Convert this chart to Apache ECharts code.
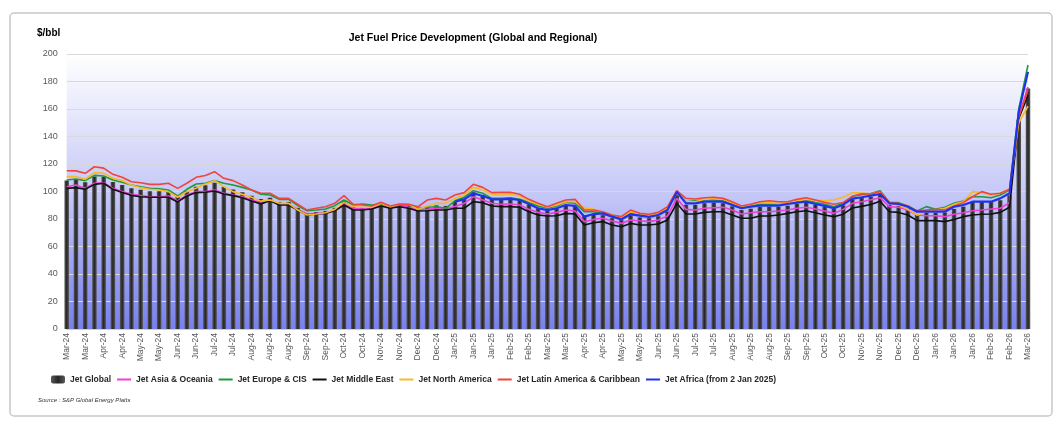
<!DOCTYPE html>
<html><head><meta charset="utf-8">
<script src="https://cdn.jsdelivr.net/npm/echarts@6/dist/echarts.min.js"></script>
<style>html,body{margin:0;padding:0;background:#fff}#c{width:1064px;height:432px}</style>
</head><body><div id="c"></div>
<script>
const categories = [
  'Mar-24','Mar-24','Mar-24',
  'Apr-24','Apr-24','Apr-24','Apr-24',
  'May-24','May-24','May-24','May-24','May-24',
  'Jun-24','Jun-24','Jun-24','Jun-24',
  'Jul-24','Jul-24','Jul-24','Jul-24',
  'Aug-24','Aug-24','Aug-24','Aug-24','Aug-24',
  'Sep-24','Sep-24','Sep-24','Sep-24',
  'Oct-24','Oct-24','Oct-24','Oct-24',
  'Nov-24','Nov-24','Nov-24','Nov-24','Nov-24',
  'Dec-24','Dec-24','Dec-24','Dec-24',
  'Jan-25','Jan-25','Jan-25','Jan-25','Jan-25',
  'Feb-25','Feb-25','Feb-25','Feb-25',
  'Mar-25','Mar-25','Mar-25','Mar-25',
  'Apr-25','Apr-25','Apr-25','Apr-25',
  'May-25','May-25','May-25','May-25','May-25',
  'Jun-25','Jun-25','Jun-25','Jun-25',
  'Jul-25','Jul-25','Jul-25','Jul-25',
  'Aug-25','Aug-25','Aug-25','Aug-25','Aug-25',
  'Sep-25','Sep-25','Sep-25','Sep-25',
  'Oct-25','Oct-25','Oct-25','Oct-25','Oct-25',
  'Nov-25','Nov-25','Nov-25','Nov-25',
  'Dec-25','Dec-25','Dec-25','Dec-25',
  'Jan-26','Jan-26','Jan-26','Jan-26','Jan-26',
  'Feb-26','Feb-26','Feb-26','Feb-26',
  'Mar-26','Mar-26'
];

const jetGlobal = [
  108, 108.5, 106.8, 110.9, 110.8, 106.9, 104.8, 102.3, 101.2, 100.2,
  100.1, 99.9, 96.1, 100.3, 103.4, 104.5, 106.3, 103.2, 101.4, 99.5,
  97, 94.5, 95.4, 92.4, 92.4, 88.1, 84.4, 85.1, 85.9, 88.1,
  92.8, 88.8, 88.7, 88.7, 90.8, 88.7, 90, 89.6, 87.2, 89,
  89.9, 89.5, 92.5, 94.3, 99.4, 97.5, 94.6, 94.3, 94.6, 93.6,
  90.5, 87.9, 86.3, 87.7, 89.9, 89.5, 82.5, 83.3, 82.8, 80.6,
  79.1, 82.6, 81.2, 80.6, 82, 85.4, 97.6, 90.4, 90.3, 91.5,
  91.8, 91.5, 89.2, 86.5, 87.5, 88.8, 88.9, 88.9, 89.7, 91,
  91.8, 90.4, 89.1, 87.9, 90, 94.4, 95.4, 96.1, 97.8, 90.2,
  89.6, 87.4, 83.6, 84.6, 84.5, 84.7, 87.3, 89, 92.3, 93,
  92.4, 93.7, 97.2, 152, 175
];

const asiaOceania = [
  103.5, 104.7, 102.3, 106, 106.4, 102.3, 99.9, 97.9, 97, 96.2,
  96.2, 96.7, 93.1, 97.4, 99.9, 99.9, 101.1, 98.7, 97.4, 96.2,
  93.8, 92, 93.8, 90.9, 90.9, 87, 83.6, 84.1, 84.6, 86.5,
  90.7, 87.8, 87.3, 87.8, 90.2, 88.5, 89.5, 88.5, 86.5, 87,
  87.8, 87.8, 89, 91.4, 96.2, 93.8, 91.4, 90.7, 90.9, 90.2,
  87, 84.8, 83.6, 84.8, 86.5, 85.8, 78.1, 79.7, 80.5, 78.5,
  76.8, 79.2, 78.7, 78.3, 79.2, 82.2, 95, 87, 86.5, 87.8,
  88.2, 88.5, 86.5, 83.6, 84.6, 85.3, 85.3, 85.8, 86.5, 87.8,
  88.5, 87.3, 85.8, 84.1, 87, 91.4, 92.6, 94, 95.5, 89,
  88.5, 86.5, 82.9, 82.4, 82.4, 81.7, 83.4, 84.6, 86, 86.5,
  87.3, 87.8, 91.9, 155, 176
];

const europeCIS = [
  108.4, 109.1, 107.9, 111.7, 111.3, 108.4, 106.7, 104.7, 103.5, 102.3,
  102, 101.1, 96.7, 101.6, 105.5, 106, 107.9, 106, 104.7, 103,
  101.1, 98, 97.4, 94.3, 94.3, 89.7, 86, 86.5, 87.3, 89.7,
  93.8, 90.2, 90.9, 90.2, 90.9, 88.9, 90.2, 90.2, 87.8, 88.5,
  88.9, 87.8, 93.2, 95.8, 100.6, 98.7, 95, 95, 95.5, 94.3,
  92.1, 89.5, 87.8, 89.5, 92.1, 91.4, 85.3, 85.3, 84.1, 82.2,
  80.5, 84.1, 82.9, 82.3, 84.6, 87.8, 100, 92.6, 93.3, 93.8,
  93.8, 93.3, 90.9, 88.5, 89.5, 90.7, 90.7, 90.9, 91.9, 93.1,
  93.8, 91.9, 90.7, 88.9, 91.4, 96.5, 97.6, 98.6, 100.6, 92.1,
  91.9, 89.5, 85.8, 89, 87, 88.5, 91.4, 93.1, 96.2, 96.2,
  95.5, 97.4, 101.1, 160, 192
];

const middleEast = [
  102.3, 102.8, 101.6, 105.2, 106, 101.6, 99.2, 97.2, 96.2, 95.8,
  95.8, 95.8, 92.4, 96.7, 99.2, 99.4, 100.4, 98.2, 97, 95.5,
  93.1, 91, 93.3, 90.2, 90.2, 86.5, 82.9, 83.6, 84.1, 86,
  90.2, 86.5, 86.5, 87.3, 89.5, 87.8, 88.9, 87.8, 85.8, 86,
  86.5, 86.5, 87.8, 87.8, 92.6, 91.9, 89.5, 89, 89, 88.5,
  85.3, 82.9, 82.2, 82.4, 84.1, 83.6, 75.6, 77.3, 78.1, 75.6,
  74.4, 76.8, 75.6, 75.6, 76.4, 79.2, 91.4, 83.6, 83.6, 84.8,
  85.3, 85.3, 82.9, 80.5, 80.5, 82.2, 82.2, 82.9, 84.1, 85.3,
  86, 84.6, 82.9, 81.7, 83.5, 88, 89.2, 90.5, 92.9, 85.3,
  84.8, 82.9, 78.8, 78.8, 78.8, 78.1, 79.7, 81.7, 82.9, 83.4,
  83.6, 84.8, 88.5, 153, 170
];

const northAmerica = [
  110.8, 110.8, 108.9, 113.7, 113.2, 109.6, 108, 104.7, 102.8, 101.6,
  101.1, 99.9, 95.8, 99.9, 102.3, 105.5, 107.9, 103.5, 99.9, 97.9,
  95.8, 93, 93.8, 91.4, 91.4, 86.5, 82.9, 83.6, 84.6, 87,
  92.1, 88.9, 88.5, 88.5, 91.4, 88.9, 90.7, 90.9, 87, 89.5,
  91.4, 91.4, 95, 97.4, 103, 101.1, 98, 97.4, 98, 96.7,
  93.1, 90.7, 88.5, 90.2, 92.6, 92.6, 88, 87.3, 84.8, 82.9,
  81.2, 85.3, 83.6, 82.6, 84.1, 87.8, 98.7, 92.6, 92.6, 94.3,
  95, 94.3, 91.9, 88.9, 90.7, 92.1, 91.9, 91.4, 92.1, 93.3,
  94.3, 93.8, 93.3, 94, 95.8, 99.2, 98.8, 98.3, 99.6, 91.4,
  90.2, 87, 82.9, 85.3, 86.5, 87.8, 90.7, 92.6, 99.9, 99.2,
  97.4, 98.7, 101.6, 150, 162
];

const latinAmerica = [
  115.1, 115, 113.2, 118, 117, 112.5, 110.3, 107.1, 106.4, 105.2,
  105.2, 106, 102.3, 106, 110.3, 111.7, 114.4, 109.6, 107.9, 104.7,
  101.1, 98.7, 98.7, 95, 95, 90.7, 86.5, 87.8, 88.9, 91.4,
  97, 90.7, 90.2, 89.5, 92.1, 89.5, 90.9, 90.7, 88.9, 93.8,
  95, 93.8, 97.5, 99.2, 105.2, 103, 99.2, 99.4, 99.4, 98,
  94.3, 91.4, 88.9, 91.4, 93.8, 94.3, 86.5, 86.5, 85.3, 82.9,
  81.7, 86.5, 84.1, 83.5, 84.8, 88.9, 100.6, 95, 94.5, 95.5,
  95.8, 95, 92.6, 89.5, 90.7, 92.6, 93.3, 92.6, 92.6, 94.3,
  95.5, 93.8, 92.1, 90.7, 92, 96.5, 98.4, 98.2, 100, 91.7,
  91.4, 89.5, 85.8, 86.5, 87, 86.5, 89.5, 91.9, 96.2, 99.9,
  98, 98.7, 101.6, 154, 174
];

const africa = [
  null, null, null, null, null, null, null, null, null, null,
  null, null, null, null, null, null, null, null, null, null,
  null, null, null, null, null, null, null, null, null, null,
  null, null, null, null, null, null, null, null, null, null,
  null, null, 92.6, 94.3, 98.7, 96.7, 94.3, 94.3, 94.7, 93.8,
  90.9, 87.8, 86.5, 87.8, 90.2, 89.5, 81.7, 83.6, 84.1, 81.7,
  79.7, 83.4, 82.4, 81.5, 82.9, 86.5, 99.7, 91.4, 91.4, 92.6,
  92.6, 92.6, 90.2, 87.8, 88.9, 89.7, 89.7, 89.7, 90.9, 91.9,
  92.6, 90.9, 89.5, 87.8, 90.4, 94.8, 95.8, 97, 98.2, 91.4,
  90.9, 88.9, 85.3, 85.3, 85.3, 85.3, 88.9, 90.2, 92.6, 92.6,
  92.6, 95, 98.7, 158, 187
];

const seriesNames = ['Jet Global','Jet Asia & Oceania','Jet Europe & CIS','Jet Middle East','Jet North America','Jet Latin America & Caribbean','Jet Africa (from 2 Jan 2025)'];
const yMin = 0, yMax = 200, yStep = 20;

const FONT = '"Liberation Sans", Arial, sans-serif';
const LINE_ICON = 'path://M0,0H14V2H0Z';
const chart = echarts.init(document.getElementById('c'), null, {renderer: 'canvas'});

function lineSeries(name, data, color, width) {
  return {
    name: name, type: 'line', data: data, symbol: 'none', showSymbol: false,
    lineStyle: {color: color, width: width}, itemStyle: {color: color},
    connectNulls: false, animation: false
  };
}

chart.setOption({
  animation: false,
  backgroundColor: '#ffffff',
  grid: {
    left: 66.7, right: 36, top: 54, bottom: 103,
    show: true, borderWidth: 0,
    backgroundColor: new echarts.graphic.LinearGradient(0, 0, 0, 1, [
      {offset: 0, color: '#ffffff'},
      {offset: 0.5, color: '#c6c9f7'},
      {offset: 1, color: '#7880ee'}
    ])
  },
  legend: {
    left: 46, top: 370,
    itemWidth: 14, itemHeight: 8, itemGap: 6, symbolKeepAspect: true,
    textStyle: {fontSize: 8.5, fontWeight: 'bold', color: '#262626', fontFamily: FONT},
    data: seriesNames.map(function (n, i) {
      return i === 0 ? {name: n, icon: 'roundRect'} : {name: n, icon: LINE_ICON};
    })
  },
  xAxis: {
    type: 'category', data: categories, boundaryGap: false,
    axisLine: {show: true, lineStyle: {color: '#d0d0d0', width: 1}},
    axisTick: {show: false},
    axisLabel: {interval: 1, rotate: 90, fontSize: 8.5, color: '#595959', margin: 4, fontFamily: FONT},
    splitLine: {show: false}
  },
  yAxis: {
    type: 'value', min: yMin, max: yMax, interval: yStep,
    axisLine: {show: false}, axisTick: {show: false},
    axisLabel: {fontSize: 9, color: '#595959', margin: 9, fontFamily: FONT},
    splitLine: {show: true, lineStyle: {color: '#d9d9d9', width: 1}}
  },
  graphic: [
    {type: 'rect', shape: {x: 10, y: 13, width: 1042, height: 403, r: 4}, style: {fill: 'none', stroke: '#c8c8c8', lineWidth: 1.5}, silent: true, z: -10},
    {type: 'text', x: 37, y: 33, style: {text: '$/bbl', font: 'bold 10px ' + FONT, fill: '#000', align: 'left', verticalAlign: 'middle'}},
    {type: 'text', x: 473, y: 38, style: {text: 'Jet Fuel Price Development (Global and Regional)', font: 'bold 10.5px ' + FONT, fill: '#000', align: 'center', verticalAlign: 'middle'}},
    {type: 'text', x: 38, y: 400, style: {text: 'Source : S&P Global Energy Platts', font: 'italic 6px ' + FONT, fill: '#333', align: 'left', verticalAlign: 'middle'}}
  ],
  series: [
    {
      name: 'Jet Global', type: 'bar', data: jetGlobal, barWidth: 4.5, clip: false,
      itemStyle: {color: new echarts.graphic.LinearGradient(0, 0, 1, 0, [
        {offset: 0, color: '#5a5a5a'}, {offset: 0.5, color: '#262626'}, {offset: 1, color: '#5a5a5a'}
      ])}
    },
    lineSeries('Jet Asia & Oceania', asiaOceania, '#ee3fd8', 1.6),
    lineSeries('Jet Europe & CIS', europeCIS, '#1f9a3a', 1.6),
    lineSeries('Jet Middle East', middleEast, '#111111', 1.6),
    lineSeries('Jet North America', northAmerica, '#f7b928', 1.6),
    lineSeries('Jet Latin America & Caribbean', latinAmerica, '#f0443c', 1.6),
    lineSeries('Jet Africa (from 2 Jan 2025)', africa, '#2030f0', 2.2)
  ]
});
</script>
</body></html>
